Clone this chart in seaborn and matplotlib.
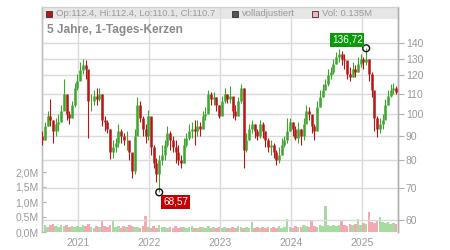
import matplotlib
matplotlib.use("Agg")
import matplotlib.pyplot as plt
import matplotlib.dates as mdates
from matplotlib.patches import Rectangle
from matplotlib.ticker import FixedLocator, FixedFormatter, NullLocator
import numpy as np
import pandas as pd
import seaborn as sns

# ---------------- data (biweekly candles) ----------------
start_date = "2020-07-01"
n_periods = 131
first_open = 90

close = [
    88, 94, 99, 97, 92, 95, 96, 101, 110, 100,
    98, 104, 113, 117, 123, 126, 124, 106, 106, 109,
    107, 110, 97, 96, 93, 83, 85, 87, 92, 90,
    88, 88, 83, 76, 90, 104, 98, 93, 90, 99,
    85, 79, 75, 80, 82, 86, 91, 88, 85, 83,
    80, 79, 86, 89, 92, 93, 92, 94, 93, 99,
    100, 110, 107, 108, 104, 99, 106, 110, 107, 109,
    101, 99, 106, 113, 84, 88, 93, 95, 92, 90,
    95, 92, 88, 85, 86, 83, 80, 82, 86, 88,
    92, 96, 93, 89, 93, 90, 95, 101, 100, 94,
    92, 103, 108, 112, 115, 120, 122, 127, 131, 133,
    130, 129, 121, 119, 124, 122, 127, 130, 128, 130,
    121, 112, 98, 93, 95, 97, 104, 109, 112, 113,
    110.7,
]
high = [
    92, 96, 101, 107, 97, 98, 100, 104, 118, 108,
    101, 106, 116, 121, 128, 130, 129, 120, 110, 112,
    113, 113, 110, 99, 97, 93, 88, 89, 95, 93,
    91, 92, 86, 82, 93, 108, 106, 99, 95, 101.6,
    98, 86, 81, 82, 86, 88, 94, 92, 90, 88,
    86, 82, 89, 91, 95, 96, 97, 97, 96, 101,
    103, 112, 111, 111, 108, 104, 109, 113, 110, 114,
    108, 104, 108, 115, 113, 91, 95, 97, 95, 93,
    97, 96, 92, 89, 88, 87, 84, 85, 89, 90,
    98, 98, 96, 94, 96, 93, 98, 104, 103, 98,
    95, 106, 112, 115, 118, 124, 125, 130, 134, 136,
    135, 133, 128, 125, 128, 126, 131, 133, 131, 136.72,
    130, 122, 110, 99, 98, 100, 107, 112, 115, 116,
    114,
]
low = [
    86, 88, 94, 94, 87, 90, 92, 96, 102, 97,
    95, 98, 103, 112, 118, 121, 118, 89, 101, 104,
    104, 106, 94, 92, 91, 80.5, 81, 83, 85, 87,
    86, 84, 80, 73.4, 75, 92, 96, 90, 87, 88,
    82, 77, 72, 68.57, 78, 80, 85, 84, 83, 79,
    78, 77, 79, 85, 88, 89, 86, 90, 90, 93,
    97, 101, 104, 104, 101, 98, 100, 105, 105, 105,
    98, 97, 99, 105, 77.2, 83, 88, 91, 89, 88,
    89, 89, 85, 83, 82, 81, 78, 79, 82, 85,
    87, 92, 90, 88, 87, 86, 88, 96, 97, 91,
    88, 92, 103, 108, 112, 114, 118, 121, 127, 128,
    126, 124, 118, 117, 119, 119, 122, 125, 124, 126,
    117, 108, 92, 89.3, 91, 93, 98, 104, 108, 110,
    110,
]
volume_m = [
    0.30, 0.22, 0.18, 0.25, 0.28, 0.20, 0.17, 0.22, 0.19, 0.24, 0.16, 0.20, 0.18,
    0.21, 0.17, 0.23, 0.19, 0.26, 0.18, 0.15, 0.20, 0.17, 0.37, 0.19, 0.16, 0.22,
    0.37, 0.18, 0.21, 0.15, 0.19, 0.17, 0.23, 0.20, 0.16, 0.18, 0.14, 0.20, 0.53,
    0.17, 0.15, 0.19, 0.13, 0.22, 0.16, 0.18, 0.14, 0.17, 0.15, 0.19, 0.13, 0.16,
    0.18, 0.14, 0.17, 0.20, 0.15, 0.13, 0.18, 0.16, 0.14, 0.19, 0.15, 0.17, 0.13,
    0.16, 0.14, 0.18, 0.15, 0.13, 0.17, 0.15, 0.19, 0.16, 0.14, 0.18, 0.15, 0.33,
    0.14, 0.17, 0.15, 0.18, 0.14, 0.16, 0.13, 0.17, 0.15, 0.19, 0.14, 0.16, 0.43,
    0.17, 0.15, 0.20, 0.16, 0.18, 0.22, 0.19, 0.17, 0.40, 0.21, 0.18, 0.23, 0.20,
    0.87, 0.22, 0.19, 0.25, 0.21, 0.24, 0.40, 0.23, 0.20, 0.26, 0.22, 0.28, 0.43,
    0.25, 0.30, 0.27, 0.67, 0.35, 0.31, 0.38, 0.50, 0.33, 0.29, 0.32, 0.27, 0.30, 0.28,
]

price_ticks = [60, 70, 80, 90, 100, 110, 120, 130, 140]
vol_ticks = [0.0, 0.5, 1.0, 1.5, 2.0]
vol_tick_labels = ["0,0M", "0,5M", "1,0M", "1,5M", "2,0M"]
title = "5 Jahre, 1-Tages-Kerzen"
legend_ohlc = "Op:112.4, Hi:112.4, Lo:110.1, Cl:110.7"
legend_adj = "volladjustiert"
legend_vol = "Vol: 0.135M"

# ---------------- styling ----------------
sns.set_style("white")
plt.rcParams["font.family"] = ["Liberation Sans", "DejaVu Sans"]

UP = "#3ea52e"
DOWN = "#b51616"
VOL_UP = "#a8dba2"
VOL_DOWN = "#f3a9b2"
GRID = "#dadada"
TXT = "#9a9a9a"

dates = pd.date_range(start_date, periods=n_periods, freq="14D")
xnum = mdates.date2num(dates)
c = np.array(close, dtype=float)
o = np.array([first_open] + close[:-1], dtype=float)
hi = np.array(high, dtype=float)
lo = np.array(low, dtype=float)
up = c >= o

df = pd.DataFrame({"date": xnum, "vol": volume_m,
                   "dir": np.where(up, "up", "down")})

fig = plt.figure(figsize=(4.5, 2.5), dpi=100)
ax = fig.add_axes([41.7 / 450, 1 - 232 / 250, (397.5 - 41.7) / 450, 225 / 250])

# header band (behind grid)
ax.add_patch(Rectangle((0, 1 - 12 / 225), 1, 12 / 225, transform=ax.transAxes,
                       facecolor="#e6e6e6", edgecolor="none", zorder=0.1))

# volume bars
sns.barplot(data=df, x="date", y="vol", hue="dir", native_scale=True,
            palette={"up": VOL_UP, "down": VOL_DOWN}, width=0.95, dodge=False,
            legend=False, linewidth=0, saturation=1, ax=ax, zorder=2)
ax.set_ylim(0, 7.5)
ax.set_xlim(mdates.date2num(pd.Timestamp("2020-06-29")),
            mdates.date2num(pd.Timestamp("2025-07-02")))
ax.yaxis.set_major_locator(FixedLocator(vol_ticks))
ax.yaxis.set_major_formatter(FixedFormatter(vol_tick_labels))
ax.xaxis.set_major_locator(mdates.YearLocator())
ax.xaxis.set_major_formatter(mdates.DateFormatter("%Y"))
ax.set_xlabel("")
ax.set_ylabel("")
ax.set_axisbelow(True)
ax.grid(axis="x", color=GRID, linewidth=1.0, zorder=0.5)
ax.grid(axis="y", visible=False)
ax.tick_params(axis="y", direction="in", length=3, width=0.8, color="#b0b0b0",
               labelcolor=TXT, labelsize=7.5, pad=2)
ax.tick_params(axis="x", length=0, labelcolor=TXT, labelsize=7.5, pad=4)

# price axis
ax2 = ax.twinx()
ax2.set_yscale("log")
ax2.set_ylim(56.7, 166.6)
ax2.yaxis.set_major_locator(FixedLocator(price_ticks))
ax2.yaxis.set_major_formatter(FixedFormatter([str(t) for t in price_ticks]))
ax2.yaxis.set_minor_locator(NullLocator())
ax2.set_axisbelow(True)
ax2.grid(axis="y", color=GRID, linewidth=1.0)
ax2.tick_params(axis="y", direction="out", length=4, width=0.8, color="#b0b0b0",
                labelcolor=TXT, labelsize=7.5, pad=2)

colors = np.where(up, UP, DOWN)
ax2.vlines(xnum, lo, hi, colors=colors, linewidth=0.8, zorder=3)
ax2.vlines(xnum, np.minimum(o, c), np.maximum(o, c), colors=colors,
           linewidth=1.8, zorder=3)

for a in (ax, ax2):
    a.spines["bottom"].set_visible(False)
    a.spines["top"].set_color("#d0d0d0")
    a.spines["left"].set_color("#c0c0c0")
    a.spines["right"].set_color("#b0b0b0")
    a.spines["left"].set_linewidth(1.0)
    a.spines["right"].set_linewidth(1.0)

# extremes
imax = int(np.argmax(hi))
imin = int(np.argmin(lo))
sns.scatterplot(x=[xnum[imax], xnum[imin]], y=[hi[imax], lo[imin]], ax=ax2,
                s=24, facecolors="none", edgecolors="#111111", linewidth=1.0,
                zorder=6, legend=False)
fmt = lambda v: f"{v:.2f}".replace(".", ",")
ax2.annotate(fmt(hi[imax]), xy=(xnum[imax], hi[imax]), xytext=(-13.7, 6.0),
             textcoords="offset points", ha="center", va="center", color="white",
             fontsize=7.2, zorder=7,
             bbox=dict(boxstyle="square,pad=0.18", fc="#0c9a0c", ec="none"))
ax2.annotate(fmt(lo[imin]), xy=(xnum[imin], lo[imin]), xytext=(11.8, -6.8),
             textcoords="offset points", ha="center", va="center", color="white",
             fontsize=7.2, zorder=7,
             bbox=dict(boxstyle="square,pad=0.18", fc="#c40000", ec="none"))

# header legend and title
def fx(px):
    return px / 450


def fy(py):
    return 1 - py / 250


for sx, fc, label in [(46, DOWN, legend_ohlc), (232, "#555555", legend_adj),
                      (312, "#f4b3bb", legend_vol)]:
    fig.add_artist(Rectangle((fx(sx), fy(17)), 6 / 450, 6 / 250,
                             transform=fig.transFigure, facecolor=fc,
                             edgecolor="#333333", linewidth=0.6))
    fig.text(fx(sx + 10), fy(14), label, color=TXT, fontsize=6.8,
             va="center", ha="left")

fig.text(fx(47), fy(30), title, color="#8a8a8a", fontsize=8.6,
         fontweight="bold", va="center", ha="left")

fig.savefig("out.png", dpi=100)
